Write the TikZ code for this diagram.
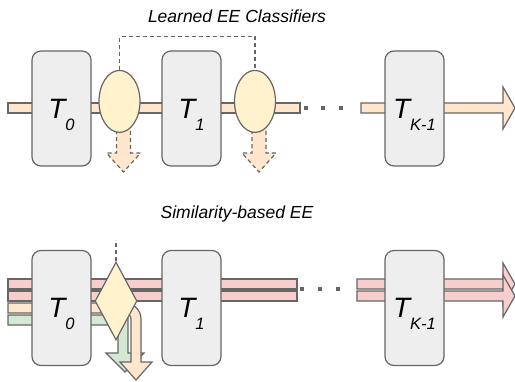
\documentclass[tikz,border=0pt]{standalone}
\usepackage{fontspec}
\setmainfont{Liberation Sans}
\usepackage{tikz}
\usetikzlibrary{calc}
\usetikzlibrary{shapes.geometric}
\definecolor{blockgray}{HTML}{EEEEEE}
\definecolor{edgegray}{HTML}{666666}
\definecolor{eeyellow}{HTML}{FFF2CC}
\definecolor{flowpeach}{HTML}{FFE6CC}
\definecolor{flowpink}{HTML}{F8CECC}
\definecolor{flowgreen}{HTML}{D5E8D4}
\tikzset{
    tblock/.style={draw=edgegray, fill=blockgray, line width=1.2pt, rounded corners=9pt,
        minimum width=59pt, minimum height=115pt, inner sep=0pt, font=\itshape},
    eeclass/.style={ellipse, draw=edgegray, fill=eeyellow, line width=1.2pt,
        minimum width=41pt, minimum height=62pt, inner sep=0pt},
    eegate/.style={diamond, draw=edgegray, fill=eeyellow, line width=1.2pt,
        minimum width=42pt, minimum height=78pt, inner sep=0pt},
    flow/.style={draw=edgegray, line width=1.2pt, fill=#1},
    ctrl/.style={draw=edgegray, line width=1.1pt, dash pattern=on 4pt off 3pt},
    dot/.style={rectangle, fill=edgegray, minimum size=4pt, inner sep=0pt},
    title/.style={font=\itshape\fontsize{17.5}{20}\selectfont, anchor=base},
}
\def\tlabel#1% Syntax: subscript of the block name
    {{\fontsize{28}{28}\selectfont T}\smash{\raisebox{-12pt}{\fontsize{16.5}{16.5}\selectfont #1}}}
\def\flowbar[#1](#2)(#3)% Syntax: [draw options] (start) (end), bar 10pt thick
    { \draw[#1] ($(#2)+(0,-5)$) rectangle ($(#3)+(0,5)$); }
\def\flowarrow[#1](#2)(#3)% Syntax: [draw options] (start) (tip), head 12pt long
    { \draw[#1] ($(#2)+(0,-5)$) -- ($(#3)+(-12,-5)$) -- ($(#3)+(-12,-21)$) -- (#3)
        -- ($(#3)+(-12,21)$) -- ($(#3)+(-12,5)$) -- ($(#2)+(0,5)$) -- cycle; }
\def\exitarrow[#1](#2)% Syntax: [draw options] (bottom of the classifier)
    { \draw[#1] ($(#2)+(-3,-10)$) -- ++(0,30) -- ++(-10,0) -- ++(17,19) -- ++(17,-19)
        -- ++(-10,0) -- ++(0,-30) -- cycle; }

\begin{document}
\begin{tikzpicture}[x=1pt, y=-1pt]
    \useasboundingbox (0,0) rectangle (515,381);

    % learned classifiers
    \node[title] (ttl1) at (237,22) {Learned EE Classifiers};
    \coordinate (src1) at (8,108);
    \coordinate (gapl1) at (300,108);
    \coordinate (gapr1) at (361,108);
    \coordinate (out1) at (515,108);
    \flowbar[flow=flowpeach](src1)(gapl1);
    \flowarrow[flow=flowpeach](gapr1)(out1);
    \foreach \i/\x in {1/306,2/323,3/341}
        \node[dot] (td\i) at (\x,108) {};

    \node[tblock] (t0) at (61.5,108.5) {\tlabel{0}};
    \node[tblock] (t1) at (191.5,108.5) {\tlabel{1}};
    \node[tblock] (tk) at (414.5,108.5) {\tlabel{K-1}};

    \coordinate (c0foot) at (119.5,133);
    \coordinate (c1foot) at (255,133);
    \exitarrow[flow=flowpeach, dash pattern=on 4pt off 3pt](c0foot);
    \exitarrow[flow=flowpeach, dash pattern=on 4pt off 3pt](c1foot);
    \node[eeclass, anchor=south] (c0) at (c0foot) {};
    \node[eeclass, anchor=south] (c1) at (c1foot) {};
    \draw[ctrl] (c0.north) -- ++(0,-33) -| (c1.north);

    % similarity based exit
    \node[title] (ttl2) at (237,218) {Similarity-based EE};
    \foreach \y in {284,296} {
        \coordinate (src2) at (8,\y);
        \coordinate (gapl2) at (297,\y);
        \coordinate (gapr2) at (357,\y);
        \coordinate (out2) at (515,\y);
        \flowbar[flow=flowpink](src2)(gapl2);
        \flowarrow[flow=flowpink](gapr2)(out2);
    }
    \foreach \i/\x in {1/302,2/320,3/338}
        \node[dot] (bd\i) at (\x,289) {};

    % exits leaving the gate
    \draw[flow=flowgreen] (8,315) -- (128,315) -- (128,353) -- (144,353) -- (125,372)
        -- (106,353) -- (118,353) -- (118,325) -- (8,325) -- cycle;
    \draw[flow=flowpeach] (8,303) -- (125,303) arc[start angle=270, end angle=360, radius=16]
        -- (141,362) -- (152,362) -- (136,380) -- (120,362) -- (131,362) -- (131,319)
        arc[start angle=0, end angle=-90, radius=6] -- (8,313) -- cycle;

    \node[tblock] (s0) at (61.5,308) {\tlabel{0}};
    \node[tblock] (s1) at (191.5,308) {\tlabel{1}};
    \node[tblock] (sk) at (414.5,308) {\tlabel{K-1}};

    \node[eegate] (gate) at (116,301) {};
    \draw[ctrl] (gate.north) -- ++(0,-21);
\end{tikzpicture}
\end{document}
